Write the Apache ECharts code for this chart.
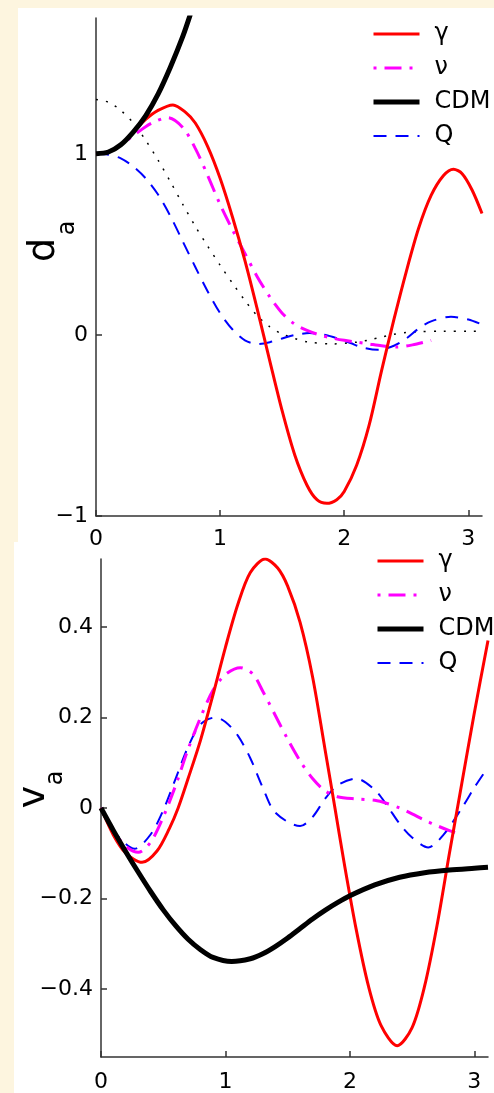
<!DOCTYPE html>
<html>
<head>
<meta charset="utf-8">
<script src="https://cdn.jsdelivr.net/npm/echarts@6/dist/echarts.min.js"></script>
<style>
  html, body { margin: 0; padding: 0; background: #fdf5df; }
  #wrap { position: relative; width: 494px; height: 1093px; overflow: hidden; }
  .panel { position: absolute; background: #ffffff; }
  #chart { position: absolute; left: 0; top: 0; width: 494px; height: 1093px; }
</style>
</head>
<body>
<div id="wrap">
  <div class="panel" style="left:18px;top:8px;width:476px;height:534px;"></div>
  <div class="panel" style="left:14px;top:542px;width:480px;height:551px;"></div>
  <div id="chart"></div>
</div>
<script>
// ---------- tick labels ----------
var xTicks = [0, 1, 2, 3];
var topYTicks = [-1, 0, 1];
var botYTicks = [-0.4, -0.2, 0, 0.2, 0.4];
var legendNames = ['γ', 'ν', 'CDM', 'Q'];

// ---------- top panel (d_a) ----------
var dGammaX = [0, 0.1, 0.2, 0.3, 0.4, 0.5, 0.62, 0.72, 0.8, 0.9, 1.0, 1.1, 1.2, 1.3, 1.4, 1.5, 1.6, 1.7, 1.78, 1.86, 1.94, 2.0, 2.1, 2.2, 2.3, 2.4, 2.5, 2.6, 2.7, 2.8, 2.88, 2.95, 3.03, 3.11];
var dGammaY = [1.0, 1.01, 1.05, 1.12, 1.19, 1.24, 1.27, 1.23, 1.17, 1.04, 0.865, 0.65, 0.41, 0.14, -0.143, -0.42, -0.66, -0.83, -0.91, -0.93, -0.91, -0.865, -0.72, -0.5, -0.2, 0.084, 0.35, 0.59, 0.77, 0.88, 0.915, 0.89, 0.8, 0.67];

var dNuX = [0, 0.1, 0.2, 0.3, 0.4, 0.48, 0.58, 0.7, 0.8, 0.9, 1.0, 1.1, 1.2, 1.3, 1.4, 1.5, 1.6, 1.7, 1.8, 1.9, 2.0, 2.1, 2.2, 2.3, 2.42, 2.55, 2.7];
var dNuY = [1.0, 1.01, 1.05, 1.1, 1.15, 1.18, 1.2, 1.145, 1.03, 0.88, 0.72, 0.58, 0.45, 0.32, 0.21, 0.12, 0.06, 0.025, 0.0, -0.017, -0.03, -0.04, -0.05, -0.06, -0.067, -0.055, -0.03];

var dCdmX = [0, 0.1, 0.2, 0.3, 0.4, 0.5, 0.6, 0.7, 0.76];
var dCdmY = [1.0, 1.01, 1.05, 1.12, 1.21, 1.33, 1.48, 1.65, 1.77];

var dQX = [0, 0.1, 0.2, 0.3, 0.4, 0.5, 0.6, 0.7, 0.8, 0.9, 1.0, 1.1, 1.2, 1.3, 1.4, 1.5, 1.6, 1.72, 1.85, 1.95, 2.05, 2.15, 2.27, 2.4, 2.5, 2.6, 2.7, 2.86, 3.0, 3.1];
var dQY = [1.0, 0.995, 0.975, 0.93, 0.865, 0.775, 0.655, 0.515, 0.375, 0.24, 0.12, 0.03, -0.03, -0.05, -0.04, -0.02, 0.0, 0.01, 0.0, -0.02, -0.045, -0.07, -0.082, -0.06, -0.02, 0.035, 0.075, 0.1, 0.085, 0.06];

var dDotX = [0, 0.1, 0.2, 0.3, 0.4, 0.5, 0.6, 0.7, 0.8, 0.9, 1.0, 1.1, 1.2, 1.3, 1.4, 1.5, 1.6, 1.7, 1.9, 2.1, 2.2, 2.3, 2.4, 2.5, 2.6, 2.8, 3.0, 3.1];
var dDotY = [1.3, 1.285, 1.24, 1.17, 1.075, 0.965, 0.845, 0.72, 0.6, 0.49, 0.385, 0.285, 0.19, 0.105, 0.045, 0.005, -0.02, -0.038, -0.05, -0.04, -0.028, -0.012, 0.003, 0.013, 0.018, 0.02, 0.02, 0.02];

// ---------- bottom panel (v_a) ----------
var vGammaX = [0, 0.1, 0.2, 0.33, 0.45, 0.55, 0.62, 0.7, 0.8, 0.9, 1.0, 1.1, 1.2, 1.32, 1.42, 1.5, 1.6, 1.7, 1.8, 1.88, 1.95, 2.05, 2.15, 2.25, 2.38, 2.5, 2.6, 2.7, 2.8, 2.9, 3.0, 3.11];
var vGammaY = [0, -0.06, -0.1, -0.12, -0.095, -0.045, 0.0, 0.065, 0.15, 0.25, 0.355, 0.45, 0.52, 0.55, 0.53, 0.49, 0.41, 0.29, 0.13, 0.0, -0.115, -0.267, -0.394, -0.48, -0.525, -0.485, -0.394, -0.26, -0.1, 0.055, 0.21, 0.37];

var vNuX = [0, 0.1, 0.2, 0.3, 0.4, 0.5, 0.6, 0.7, 0.8, 0.9, 1.0, 1.12, 1.22, 1.3, 1.4, 1.5, 1.6, 1.7, 1.8, 1.9, 2.05, 2.2, 2.3, 2.4, 2.5, 2.6, 2.7, 2.8, 2.85];
var vNuY = [0, -0.05, -0.085, -0.098, -0.075, -0.02, 0.05, 0.13, 0.2, 0.26, 0.295, 0.31, 0.296, 0.258, 0.205, 0.152, 0.104, 0.065, 0.038, 0.025, 0.02, 0.017, 0.01, 0.0, -0.013, -0.027, -0.039, -0.05, -0.055];

var vCdmX = [0, 0.1, 0.2, 0.3, 0.4, 0.5, 0.6, 0.7, 0.8, 0.9, 1.05, 1.2, 1.3, 1.4, 1.5, 1.6, 1.7, 1.8, 1.9, 2.0, 2.2, 2.4, 2.6, 2.8, 3.0, 3.11];
var vCdmY = [0, -0.05, -0.097, -0.142, -0.185, -0.225, -0.26, -0.29, -0.313, -0.33, -0.339, -0.333, -0.322, -0.306, -0.287, -0.266, -0.245, -0.226, -0.209, -0.194, -0.17, -0.153, -0.143, -0.137, -0.133, -0.131];

var vQX = [0, 0.1, 0.27, 0.4, 0.5, 0.6, 0.7, 0.8, 0.92, 1.0, 1.1, 1.2, 1.3, 1.4, 1.6, 1.7, 1.8, 1.9, 2.05, 2.2, 2.3, 2.4, 2.5, 2.63, 2.75, 2.9, 3.0, 3.11];
var vQY = [0, -0.05, -0.09, -0.058, -0.005, 0.065, 0.135, 0.185, 0.2, 0.19, 0.16, 0.11, 0.045, -0.01, -0.04, -0.02, 0.02, 0.05, 0.065, 0.04, 0.005, -0.035, -0.065, -0.087, -0.06, 0.0, 0.045, 0.09];

function pairs(xs, ys) { return xs.map(function (x, i) { return [x, ys[i]]; }); }

var FONT = 'DejaVu Sans';
function fmt(v) { return (v < 0 ? '\u2212' : '') + Math.abs(v); }

function xAxisCfg(gridIndex, margin) {
  return {
    type: 'value', gridIndex: gridIndex, min: 0, max: 3.11,
    axisLine: { show: true, onZero: false, lineStyle: { color: '#333', width: 1.5 } },
    axisTick: { show: true, inside: true, length: 6, customValues: xTicks, lineStyle: { color: '#333', width: 1.5 } },
    axisLabel: { customValues: xTicks, margin: margin, color: '#000', fontSize: 22, fontFamily: FONT, formatter: fmt },
    splitLine: { show: false }
  };
}
function yAxisCfg(gridIndex, min, max, ticks) {
  return {
    type: 'value', gridIndex: gridIndex, min: min, max: max,
    axisLine: { show: true, onZero: false, lineStyle: { color: '#333', width: 1.5 } },
    axisTick: { show: true, inside: true, length: 6, customValues: ticks, lineStyle: { color: '#333', width: 1.5 } },
    axisLabel: { customValues: ticks, margin: 8, color: '#000', fontSize: 22, fontFamily: FONT, formatter: fmt },
    splitLine: { show: false }
  };
}

var S = {
  'γ':   { color: '#ff0000', width: 3, type: 'solid' },
  'ν':   { color: '#ff00ff', width: 3, type: [3, 8, 17, 8] },
  'CDM': { color: '#000000', width: 5, type: 'solid' },
  'Q':   { color: '#0000ff', width: 2, type: [13, 9] }
};
function line(name, data, gi, extra) {
  var st = extra || S[name];
  return {
    type: 'line', name: name, xAxisIndex: gi, yAxisIndex: gi, data: data,
    symbol: 'none', smooth: 0.3, clip: true,
    lineStyle: { color: st.color, width: st.width, type: st.type, cap: 'butt' },
    itemStyle: { color: st.color },
    emphasis: { disabled: true }, animation: false
  };
}

function legendCfg(left, top) {
  return {
    data: legendNames.map(function (n) {
      return { name: n, lineStyle: { width: S[n].width, type: S[n].type, color: S[n].color } };
    }),
    orient: 'vertical', left: left, top: top, padding: 0,
    itemWidth: 46, itemHeight: 14, itemGap: 10, selectedMode: false,
    itemStyle: { opacity: 0 },
    textStyle: { fontSize: 24, fontFamily: FONT, color: '#000', lineHeight: 24, padding: [0, 0, 0, 10] }
  };
}

var chart = echarts.init(document.getElementById('chart'), null, { renderer: 'canvas' });
chart.setOption({
  animation: false,
  backgroundColor: 'transparent',
  grid: [
    { left: 96, top: 18, width: 386, height: 498 },
    { left: 101, top: 559, width: 387, height: 499 }
  ],
  xAxis: [xAxisCfg(0, 12), xAxisCfg(1, 14)],
  yAxis: [yAxisCfg(0, -1, 1.75, topYTicks), yAxisCfg(1, -0.55, 0.55, botYTicks)],
  legend: [legendCfg(371, 22), legendCfg(375, 549)],
  graphic: [
    { type: 'text', x: 44, y: 250, rotation: Math.PI / 2, style: { text: 'd', fontSize: 38, fontFamily: FONT, fill: '#000', align: 'center', verticalAlign: 'middle' } },
    { type: 'text', x: 68, y: 228, rotation: Math.PI / 2, style: { text: 'a', fontSize: 24, fontFamily: FONT, fill: '#000', align: 'center', verticalAlign: 'middle' } },
    { type: 'text', x: 34, y: 797, rotation: Math.PI / 2, style: { text: 'v', fontSize: 38, fontFamily: FONT, fill: '#000', align: 'center', verticalAlign: 'middle' } },
    { type: 'text', x: 56, y: 778, rotation: Math.PI / 2, style: { text: 'a', fontSize: 24, fontFamily: FONT, fill: '#000', align: 'center', verticalAlign: 'middle' } }
  ],
  series: [
    line('dotted', pairs(dDotX, dDotY), 0, { color: '#000000', width: 1.5, type: [2, 8] }),
    line('Q', pairs(dQX, dQY), 0),
    line('ν', pairs(dNuX, dNuY), 0),
    line('γ', pairs(dGammaX, dGammaY), 0),
    line('CDM', pairs(dCdmX, dCdmY), 0),
    line('Q', pairs(vQX, vQY), 1),
    line('ν', pairs(vNuX, vNuY), 1),
    line('γ', pairs(vGammaX, vGammaY), 1),
    line('CDM', pairs(vCdmX, vCdmY), 1)
  ]
});
</script>
</body>
</html>
